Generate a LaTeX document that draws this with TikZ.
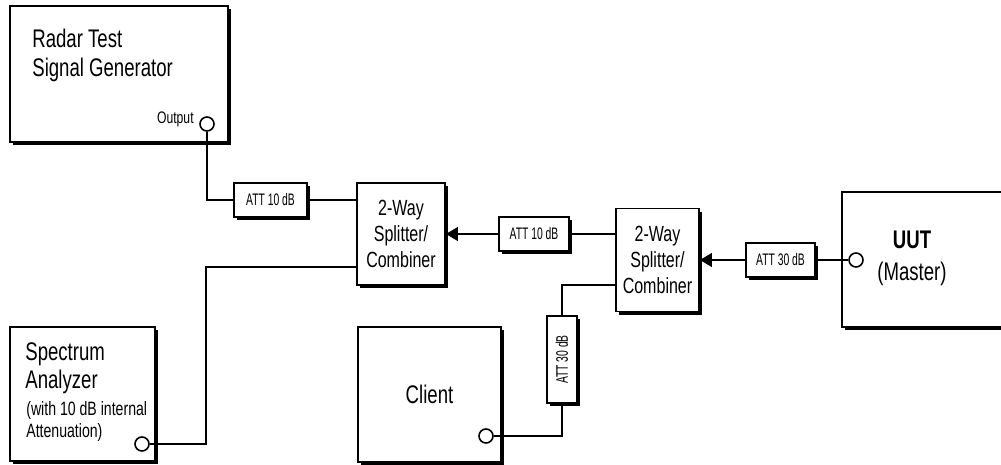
\documentclass[tikz,border=0pt]{standalone}
\usepackage{fontspec}
\setmainfont{Liberation Sans}[FakeStretch=0.73]
\newfontfamily\attfont{Liberation Sans}[FakeStretch=0.62]
\usetikzlibrary{positioning}
\usetikzlibrary{shadows}
\usetikzlibrary{arrows.meta}
\newcommand{\pxu}{0.02cm}
\tikzset{
	every node/.style = {inner sep=0pt},
	unit/.style = {draw, fill=white, line width=1.1pt,
		drop shadow={shadow xshift=0.065cm, shadow yshift=-0.065cm, opacity=1, fill=black}},
	att/.style = {unit, line width=1pt, font=\attfont\fontsize{9.5}{11}\selectfont},
	port/.style = {draw, circle, fill=white, line width=0.9pt, minimum size=14*\pxu},
	wire/.style = {line width=1pt},
	feed/.style = {wire, -{Triangle[length=0.24cm, width=0.28cm]}},
	big/.style = {font=\fontsize{14.5}{16.5}\selectfont},
	mid/.style = {font=\fontsize{12.5}{14.8}\selectfont},
	small/.style = {font=\fontsize{9.5}{11}\selectfont},
	note/.style = {font=\fontsize{11}{12.5}\selectfont}
}

\begin{document}
\begin{tikzpicture}[x=\pxu, y=-\pxu]
	\useasboundingbox (0,0) rectangle (1001,465);
	\clip (0,0) rectangle (1001,465);
	% instruments
	\node[unit, minimum width=218*\pxu, minimum height=136*\pxu] (gen) at (119,74) {};
	\node[unit, minimum width=145*\pxu, minimum height=134*\pxu] (spec) at (82.5,394) {};
	\node[unit, big, minimum width=143*\pxu, minimum height=135*\pxu] (client) at (429.5,394.5) {Client};
	\node[unit, minimum width=175*\pxu, minimum height=135*\pxu] (uut) at (929.5,259.5) {};
	% splitters
	\node[unit, mid, align=center, minimum width=88*\pxu, minimum height=102*\pxu] (split1) at (401,234) {2-Way\\Splitter/\\Combiner};
	\node[unit, mid, align=center, minimum width=83*\pxu, minimum height=103*\pxu] (split2) at (657.5,260) {2-Way\\Splitter/\\Combiner};
	% attenuators
	\foreach \n/\x/\y/\w/\t in {att1/270.5/200/73/10, att2/534/234/70/10, att3/780.5/260/69/30}
		\node[att, minimum width=\w*\pxu, minimum height=34*\pxu] (\n) at (\x,\y) {ATT \t\ dB};
	\node[att, minimum width=30*\pxu, minimum height=87*\pxu] (att4) at (562,359.5) {\rotatebox{90}{ATT 30 dB}};
	% labels
	\node[big, anchor=base west] (gen1) at (32,48) {Radar Test};
	\node[big, anchor=base west] (gen2) at (32,77) {Signal Generator};
	\node[small, anchor=base east] (genlbl) at (194,124) {Output};
	\node[big, anchor=base west] (spec1) at (25,361) {Spectrum};
	\node[big, anchor=base west] (spec2) at (25,389) {Analyzer};
	\node[note, anchor=base west] (spec3) at (26,416) {(with 10 dB internal};
	\node[note, anchor=base west] (spec4) at (26,438) {Attenuation)};
	\node[align=center, font=\fontsize{14.5}{18.2}\selectfont] (uutlbl) at (912,258) {\textbf{UUT}\\(Master)};
	% ports
	\node[port] (genout) at (207,124) {};
	\node[port] (specin) at (142,444) {};
	\node[port] (clientio) at (486,436) {};
	\node[port] (uutio) at (856,260) {};
	% wiring
	\coordinate (s1low) at (357,267);
	\coordinate (bend) at (206,444);
	\coordinate (s2low) at (616,285);
	\draw[wire] (genout) |- (att1);
	\draw[wire] (att1) -- (att1 -| split1.west);
	\draw[wire] (s1low) -| (bend) -- (specin);
	\draw[feed] (att2) -- (split1);
	\draw[wire] (split2.west |- att2) -- (att2);
	\draw[wire] (s2low) -| (att4);
	\draw[wire] (clientio) -| (att4);
	\draw[feed] (att3) -- (split2);
	\draw[wire] (uutio) -- (att3);
\end{tikzpicture}
\end{document}
